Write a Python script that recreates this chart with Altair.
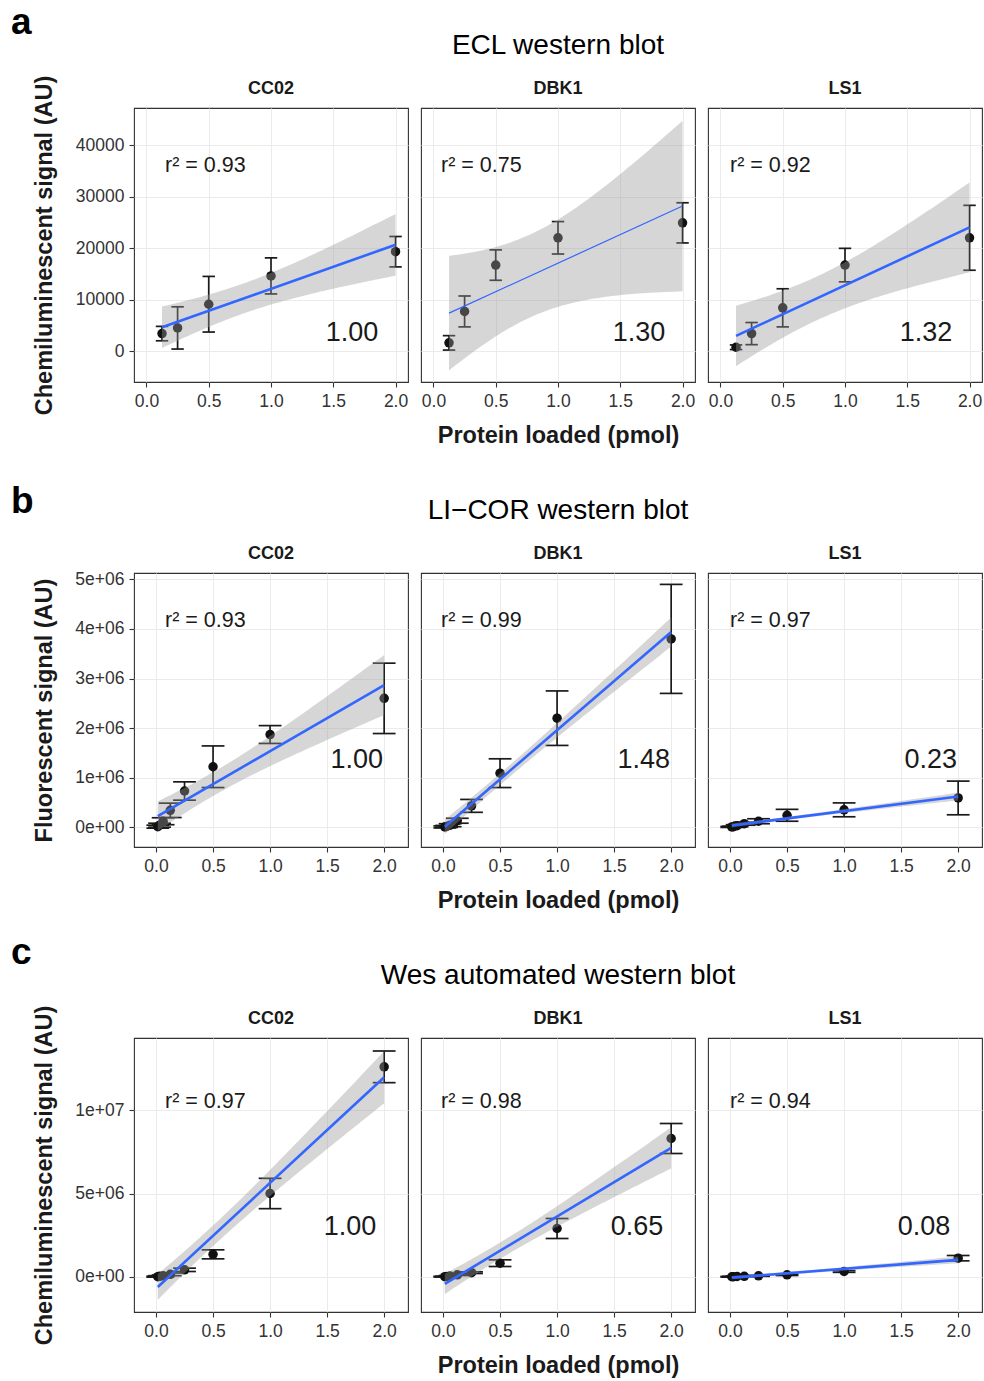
import altair as alt
import numpy as np
import pandas as pd

FONT = "Liberation Sans"
INK = "#1a1a1a"
BLUE = "#3366FF"

cell_lines = ["CC02", "DBK1", "LS1"]

# ---- a: ECL western blot (mean signal and error per amount loaded) ----
ecl_pmol = [0.125, 0.25, 0.5, 1.0, 2.0]
ecl_cc02_mean = [3400, 4500, 9100, 14600, 19300]
ecl_cc02_err = [1400, 4100, 5400, 3500, 2950]
ecl_dbk1_mean = [1600, 7700, 16700, 22000, 24900]
ecl_dbk1_err = [1400, 3000, 2950, 3150, 3900]
ecl_ls1_mean = [750, 3400, 8400, 16700, 22000]
ecl_ls1_err = [450, 2150, 3700, 3250, 6300]
ecl_r2 = ["0.93", "0.75", "0.92"]
ecl_rel_slope = ["1.00", "1.30", "1.32"]
ecl_yticks = [0, 10000, 20000, 30000, 40000]

# ---- b: LI-COR western blot ----
licor_pmol = [0.015625, 0.03125, 0.0625, 0.125, 0.25, 0.5, 1.0, 2.0]
licor_cc02_mean = [10000, 40000, 120000, 340000, 730000, 1220000, 1870000, 2600000]
licor_cc02_err = [30000, 40000, 70000, 145000, 185000, 420000, 180000, 710000]
licor_dbk1_mean = [5000, 15000, 40000, 130000, 430000, 1090000, 2200000, 3800000]
licor_dbk1_err = [20000, 20000, 30000, 50000, 130000, 290000, 550000, 1100000]
licor_ls1_mean = [5000, 10000, 30000, 70000, 120000, 240000, 350000, 590000]
licor_ls1_err = [10000, 10000, 20000, 30000, 50000, 120000, 140000, 340000]
licor_r2 = ["0.93", "0.99", "0.97"]
licor_rel_slope = ["1.00", "1.48", "0.23"]
licor_yticks = [0, 1e6, 2e6, 3e6, 4e6, 5e6]

# ---- c: Wes automated western blot ----
wes_pmol = [0.015625, 0.03125, 0.0625, 0.125, 0.25, 0.5, 1.0, 2.0]
wes_cc02_mean = [10000, 30000, 60000, 150000, 420000, 1350000, 5000000, 12600000]
wes_cc02_err = [30000, 40000, 50000, 80000, 100000, 270000, 910000, 950000]
wes_dbk1_mean = [10000, 20000, 50000, 120000, 250000, 820000, 2900000, 8300000]
wes_dbk1_err = [20000, 20000, 30000, 40000, 50000, 200000, 600000, 900000]
wes_ls1_mean = [5000, 10000, 20000, 30000, 60000, 120000, 320000, 1120000]
wes_ls1_err = [20000, 20000, 20000, 20000, 30000, 40000, 50000, 160000]
wes_r2 = ["0.97", "0.98", "0.94"]
wes_rel_slope = ["1.00", "0.65", "0.08"]
wes_yticks = [0, 5e6, 1e7]

x_ticks = [0, 0.5, 1.0, 1.5, 2.0]

# two-sided 95% t quantiles by residual degrees of freedom
T975 = {3: 3.182, 4: 2.776, 5: 2.571, 6: 2.447, 7: 2.365}

SCI_LABEL = "replace(format(datum.value, '.0e'), 'e+', 'e+0')"

rows = [
    dict(letter="a", title="ECL western blot", ytitle="Chemiluminescent signal (AU)",
         pmol=ecl_pmol, means=[ecl_cc02_mean, ecl_dbk1_mean, ecl_ls1_mean],
         errs=[ecl_cc02_err, ecl_dbk1_err, ecl_ls1_err], r2=ecl_r2, rel=ecl_rel_slope,
         yticks=ecl_yticks, ylabel="format(datum.value, 'd')",
         xdom=[-0.1, 2.1], ydom=[-6000, 47200], cap=0.05,
         r2_y=35900, rel_x=1.65, rel_y=3500, letter_y=-74, line_w=[2.6, 1.2, 2.6]),
    dict(letter="b", title="LI\u2212COR western blot", ytitle="Fluorescent signal (AU)",
         pmol=licor_pmol, means=[licor_cc02_mean, licor_dbk1_mean, licor_ls1_mean],
         errs=[licor_cc02_err, licor_dbk1_err, licor_ls1_err], r2=licor_r2, rel=licor_rel_slope,
         yticks=licor_yticks, ylabel=SCI_LABEL,
         xdom=[-0.193, 2.209], ydom=[-400000, 5130000], cap=0.1,
         r2_y=4160000, rel_x=1.76, rel_y=1350000, letter_y=-60, line_w=[2.6, 2.6, 2.6]),
    dict(letter="c", title="Wes automated western blot", ytitle="Chemiluminescent signal (AU)",
         pmol=wes_pmol, means=[wes_cc02_mean, wes_dbk1_mean, wes_ls1_mean],
         errs=[wes_cc02_err, wes_dbk1_err, wes_ls1_err], r2=wes_r2, rel=wes_rel_slope,
         yticks=wes_yticks, ylabel=SCI_LABEL,
         xdom=[-0.193, 2.209], ydom=[-2110000, 14330000], cap=0.1,
         r2_y=10500000, rel_x=1.70, rel_y=3000000, letter_y=-74, line_w=[2.6, 2.6, 2.6]),
]

# left offset of the r² label inside each panel (px)
r2_px = [31, 20, 22]

W = 274
H = 274


def lm_band(x, y, n=80):
    """95% confidence band of a least-squares line, as geom_smooth(method = lm)."""
    x = np.asarray(x, float)
    y = np.asarray(y, float)
    slope, icpt = np.polyfit(x, y, 1)
    resid = y - (icpt + slope * x)
    dof = len(x) - 2
    s = np.sqrt((resid ** 2).sum() / dof)
    sxx = ((x - x.mean()) ** 2).sum()
    grid = np.linspace(x.min(), x.max(), n)
    fit = icpt + slope * grid
    half = T975[dof] * s * np.sqrt(1 / len(x) + (grid - x.mean()) ** 2 / sxx)
    return pd.DataFrame({"gx": grid, "lo": fit - half, "hi": fit + half})


def one_row():
    return pd.DataFrame({"k": [0]})


def build_panel(row, col):
    pts = pd.DataFrame({"pmol": row["pmol"], "signal": row["means"][col], "err": row["errs"][col]})
    xs = alt.Scale(domain=row["xdom"], nice=False, zero=False)
    ys = alt.Scale(domain=row["ydom"], nice=False, zero=False)

    if col == 1:
        x_axis = alt.Axis(values=x_ticks, format=".1f", title="Protein loaded (pmol)",
                          titleX=W / 2, titleY=53, titleBaseline="middle")
    else:
        x_axis = alt.Axis(values=x_ticks, format=".1f", title=None)
    if col == 0:
        y_axis = alt.Axis(values=row["yticks"], labelExpr=row["ylabel"], title=row["ytitle"],
                          titleX=-90, titleY=H / 2, titleBaseline="middle")
    else:
        y_axis = alt.Axis(values=row["yticks"], labels=False, ticks=False, title=None)

    def X(f):
        return alt.X(f, type="quantitative", scale=xs, axis=x_axis)

    def Y(f):
        return alt.Y(f, type="quantitative", scale=ys, axis=y_axis)

    base = alt.Chart(pts).transform_calculate(
        lo="datum.signal - datum.err",
        hi="datum.signal + datum.err",
        xl=f"datum.pmol - {row['cap']}",
        xr=f"datum.pmol + {row['cap']}",
    )

    bars = base.mark_rule(color=INK, strokeWidth=1.7).encode(x=X("pmol"), y=Y("lo"), y2="hi")
    cap_top = base.mark_rule(color=INK, strokeWidth=1.7).encode(x=X("xl"), x2="xr", y=Y("hi"))
    cap_bot = base.mark_rule(color=INK, strokeWidth=1.7).encode(x=X("xl"), x2="xr", y=Y("lo"))
    points = base.mark_circle(size=90, color="#111111", opacity=1).encode(x=X("pmol"), y=Y("signal"))

    band = alt.Chart(lm_band(row["pmol"], row["means"][col])).mark_area(
        color="#999999", opacity=0.4, clip=True
    ).encode(x=X("gx"), y=Y("lo"), y2="hi")

    fit = alt.Chart(pts).transform_regression("pmol", "signal").mark_line(
        color=BLUE, strokeWidth=row["line_w"][col], clip=True
    ).encode(x=X("pmol"), y=Y("signal"))

    r2_text = alt.Chart(pd.DataFrame({"ry": [row["r2_y"]], "t": ["r\u00b2 = " + row["r2"][col]]})).mark_text(
        align="left", baseline="middle", font=FONT, fontSize=21.5, color=INK
    ).encode(x=alt.value(r2_px[col]), y=Y("ry"), text="t:N")

    rel_text = alt.Chart(pd.DataFrame({"rx": [row["rel_x"]], "ry": [row["rel_y"]], "t": [row["rel"][col]]})).mark_text(
        align="center", baseline="middle", font=FONT, fontSize=27, color=INK
    ).encode(x=X("rx"), y=Y("ry"), text="t:N")

    strip = alt.Chart(one_row()).mark_text(
        text=cell_lines[col], align="center", baseline="middle", font=FONT,
        fontSize=18, fontWeight="bold", color=INK
    ).encode(x=alt.value(W / 2), y=alt.value(-19))

    layers = [bars, cap_top, cap_bot, points, band, fit, r2_text, rel_text, strip]

    if col == 0:
        # invisible rule fixing the row's outer extent so the rows line up
        frame = alt.Chart(one_row()).mark_rule(strokeOpacity=0).encode(
            x=alt.value(-123), y=alt.value(-107), y2=alt.value(344)
        )
        letter = alt.Chart(one_row()).mark_text(
            text=row["letter"], align="left", baseline="alphabetic", font=FONT,
            fontSize=37, fontWeight="bold", color="black"
        ).encode(x=alt.value(-123), y=alt.value(row["letter_y"]))
        layers += [frame, letter]
    if col == 1:
        heading = alt.Chart(one_row()).mark_text(
            text=row["title"], align="center", baseline="middle", font=FONT,
            fontSize=28, color="black"
        ).encode(x=alt.value(W / 2), y=alt.value(-62))
        layers.append(heading)

    return alt.layer(*layers).properties(width=W, height=H)


# flush bounds: panels are spaced by their plot areas only
row_charts = [
    alt.hconcat(*[build_panel(r, c) for c in range(3)], spacing=13, bounds="flush")
    for r in rows
]

chart = alt.vconcat(*row_charts, spacing=12).properties(
    padding={"left": 10, "top": 0, "right": 0, "bottom": 0}
).configure_view(
    stroke="#333333", strokeWidth=1.1
).configure_axis(
    grid=True, gridColor="#EBEBEB", gridWidth=1, domain=False,
    tickColor="#333333", tickSize=5, tickWidth=1.1,
    labelFont=FONT, labelFontSize=17.5, labelColor="#333333", labelPadding=5, labelFlush=False,
    titleFont=FONT, titleFontSize=23.5, titleFontWeight="bold", titleColor=INK
)

chart.save("out.html", embed_options={"renderer": "svg", "actions": False})
